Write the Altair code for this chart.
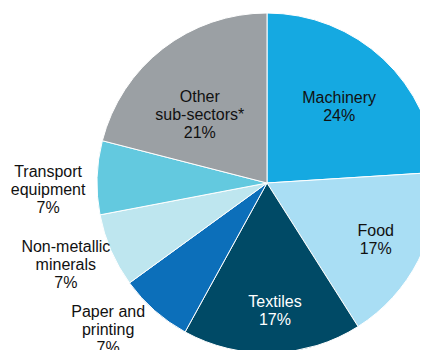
import math
import altair as alt
import pandas as pd

categories = ["Machinery", "Food", "Textiles", "Paper and printing",
              "Non-metallic minerals", "Transport equipment", "Other sub-sectors*"]
label_lines = [["Machinery"], ["Food"], ["Textiles"], ["Paper and", "printing"],
               ["Non-metallic", "minerals"], ["Transport", "equipment"],
               ["Other", "sub-sectors*"]]
shares = [24, 17, 17, 7, 7, 7, 21]
colors = ["#15a9e1", "#a9def4", "#004a66", "#0c6fba", "#bee6ef", "#63c9df", "#9ba0a4"]

df = pd.DataFrame({
    "idx": list(range(len(categories))),
    "category": categories,
    "share": shares,
    "label": ["\n".join(lines + [f"{s}%"]) for lines, s in zip(label_lines, shares)],
})

CX, CY = 259, 175
R = 170
LH = 18

pie = alt.Chart(df).mark_arc(outerRadius=R, stroke="white", strokeWidth=1).encode(
    theta=alt.Theta("share:Q", stack=True),
    order=alt.Order("idx:Q"),
    color=alt.Color("category:N", scale=alt.Scale(domain=categories, range=colors), legend=None),
    x=alt.value(CX), y=alt.value(CY),
)

# label layout: (radius, dx, dy, colour)
layout = {
    "Machinery": (104, 1, 0, "#111111"),
    "Food": (122, 0, 2, "#111111"),
    "Textiles": (127, 4, 1, "#ffffff"),
    "Paper and printing": (216, -16, -15, "#111111"),
    "Non-metallic minerals": (217, -2, -4, "#111111"),
    "Transport equipment": (219, 0, 14, "#111111"),
    "Other sub-sectors*": (95, -9, 7, "#111111"),
}
n_lines = {c: len(l) + 1 for c, l in zip(categories, label_lines)}

text_base = alt.Chart(df).transform_window(
    cum="sum(share)", sort=[alt.SortField("idx")]
).transform_calculate(
    mid="datum.cum - datum.share / 2"
)

layers = [pie]
for cat, (r, dx, dy, col) in layout.items():
    layers.append(
        text_base.transform_filter(alt.datum.category == cat).mark_text(
            radius=r, dx=dx, dy=dy - (n_lines[cat] - 1) * LH / 2, fontSize=16,
            font="Liberation Sans", lineBreak="\n", lineHeight=LH,
            align="center", baseline="middle", color=col,
        ).encode(
            theta=alt.Theta("mid:Q", scale=alt.Scale(domain=[0, 100], range=[0, 2 * math.pi])),
            text="label:N",
            x=alt.value(CX), y=alt.value(CY),
        )
    )

chart = alt.layer(*layers).resolve_scale(theta="independent").properties(
    width=412, height=342, autosize=alt.AutoSizeParams(type="none"), padding=0
).configure_view(stroke=None)

chart.save("out.html", embed_options={"renderer": "svg", "actions": False})
